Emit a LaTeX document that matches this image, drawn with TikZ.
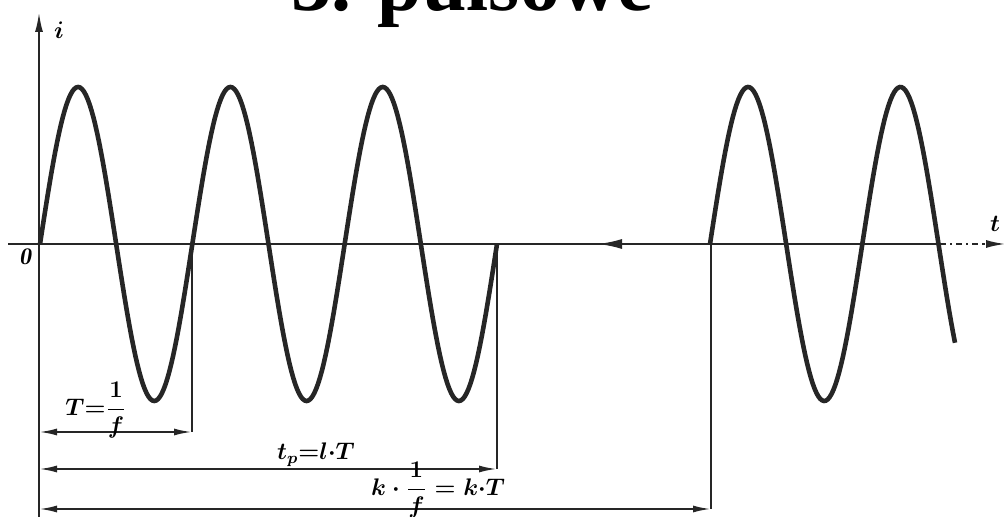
\documentclass[tikz,border=0pt]{standalone}
\usepackage{fontspec}
\newfontfamily\titlefont{Liberation Serif}
\usetikzlibrary{arrows.meta}

\begin{document}
\begin{tikzpicture}[x=.5pt,y=-.5pt,line width=1.1pt,draw=black!85,
  wave/.style={line width=2.3pt},
  tip/.style={-{Latex[length=10pt,width=4pt]}},
  dim/.style={{Latex[length=9pt,width=3.5pt]}-{Latex[length=9pt,width=3.5pt]},line width=1pt},
  lbl/.style={font=\fontsize{12}{14}\selectfont\boldmath}]
\useasboundingbox (0,0) rectangle (1008,517);
\clip (0,0) rectangle (1008,517);
\node[anchor=base west,inner sep=0,font=\titlefont\bfseries\fontsize{40}{40}\selectfont] (title) at (290,11) {3. pulsowe};
\coordinate (O) at (39,244); \coordinate (ytop) at (39,12); \coordinate (ybot) at (39,517);
\coordinate (xl) at (8,244); \coordinate (xs) at (940,244); \coordinate (xr) at (1006,244);
\coordinate (m1) at (626,244); \coordinate (m2) at (598,244);
\draw[tip] (ybot) -- (ytop); \draw (xl) -- (xs); \draw[dash dot,tip] (xs) -- (xr);
\draw[{Latex[length=12pt,width=5pt]}-] (m2) -- (m1);
\node[lbl] (ilab) at (59,30) {$i$}; \node[lbl] (olab) at (25,257) {$\mathit{0}$}; \node[lbl] (tlab) at (995,224) {$t$};
\draw[wave] plot[domain=40:497,samples=241] (\x,{244-157*sin(2.36324*(\x-40))});
\draw[wave] plot[domain=710:955,samples=130] (\x,{244-157*sin(2.36324*(\x-710))});
\coordinate (c1) at (192,244); \coordinate (c2) at (497,244); \coordinate (c3) at (711,244);
\coordinate (Ta) at (39,432); \coordinate (pa) at (39,469); \coordinate (ka) at (39,509);
\draw (c1) -- (c1 |- Ta); \draw (c2) -- (c2 |- pa); \draw (c3) -- (c3 |- ka);
\draw[dim] (Ta) -- (c1 |- Ta); \draw[dim] (pa) -- (c2 |- pa); \draw[dim] (ka) -- (c3 |- ka);
\node[lbl] (Tlab) at (96,410) {$\displaystyle T{=}\frac{1}{f}$};
\node[lbl] (plab) at (316,455) {$t_p{=}l{\cdot}T$};
\node[lbl] (klab) at (438,490) {$\displaystyle k\cdot\frac{1}{f}=k{\cdot}T$};
\end{tikzpicture}
\end{document}
